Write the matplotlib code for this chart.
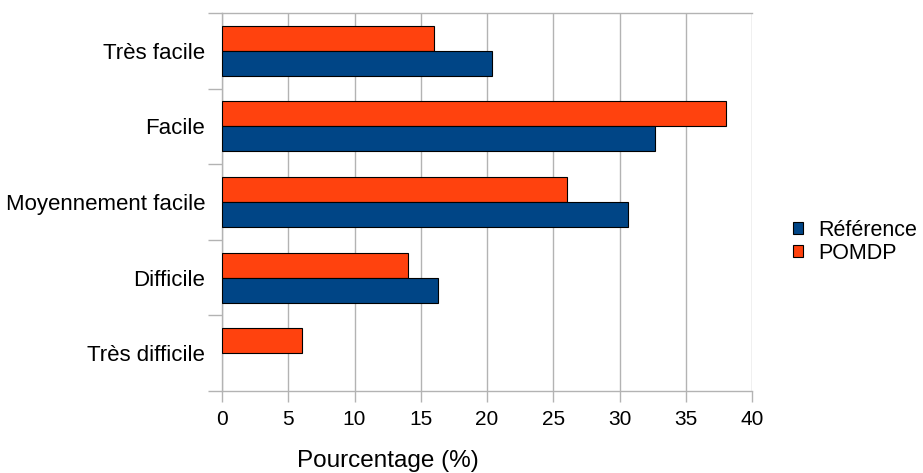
import matplotlib
matplotlib.use("Agg")
import matplotlib.pyplot as plt
import numpy as np
from matplotlib.patches import Patch

plt.rcParams['font.family'] = ['Liberation Sans', 'DejaVu Sans']

categories = ["Très facile", "Facile", "Moyennement facile", "Difficile", "Très difficile"]
reference = [20.41, 32.65, 30.61, 16.33, 0.0]
pomdp = [16.0, 38.0, 26.0, 14.0, 6.0]
series_names = ["Référence", "POMDP"]
x_ticks = [0, 5, 10, 15, 20, 25, 30, 35, 40]
x_label = "Pourcentage (%)"

blue = "#004586"
orange = "#ff420e"
grid_col = "#b3b3b3"

fig = plt.figure(figsize=(9.23, 4.73), dpi=100)
ax = fig.add_axes([222 / 923, 1 - 391 / 473, 530 / 923, 378 / 473])

y = np.arange(len(categories))
h = 0.33


def edge_widths(values):
    # no outline for empty bars
    return [0.8 if v > 0 else 0.0 for v in values]


ax.barh(y - h / 2, pomdp, height=h, color=orange, edgecolor="black",
        linewidth=edge_widths(pomdp), zorder=3)
ax.barh(y + h / 2, reference, height=h, color=blue, edgecolor="black",
        linewidth=edge_widths(reference), zorder=3)

ax.set_xlim(0, 40)
ax.set_ylim(len(categories) - 0.5, -0.5)

# x axis: gridlines and ticks
ax.set_xticks(x_ticks)
ax.set_xticklabels([str(t) for t in x_ticks], fontsize=15)
ax.xaxis.grid(True, color=grid_col, linewidth=1.0, zorder=0)
ax.tick_params(axis="x", length=8, width=1, color=grid_col, pad=6)

# y axis: ticks on category boundaries, labels on category centres
ax.set_yticks(np.arange(len(categories) + 1) - 0.5)
ax.set_yticklabels([])
ax.set_yticks(y, minor=True)
ax.set_yticklabels(categories, minor=True, fontsize=16)
ax.tick_params(axis="y", which="major", length=10, width=1, color=grid_col)
ax.tick_params(axis="y", which="minor", length=0, pad=12)

for side in ["left", "bottom", "top", "right"]:
    ax.spines[side].set_color(grid_col)
    ax.spines[side].set_linewidth(1.0)
ax.spines["right"].set_visible(False)

ax.set_xlabel(x_label, fontsize=17.5, labelpad=12)
ax.xaxis.set_label_coords(0.313, -0.155)

handles = [Patch(facecolor=blue, edgecolor="black", linewidth=0.8),
           Patch(facecolor=orange, edgecolor="black", linewidth=0.8)]
fig.legend(handles, series_names, loc="center left", bbox_to_anchor=(793 / 923, 1 - 242 / 473),
           frameon=False, fontsize=15.5, handlelength=0.48, handleheight=0.48,
           handletextpad=0.68, labelspacing=0.1, borderpad=0, borderaxespad=0)

fig.savefig("out.png", dpi=100)
